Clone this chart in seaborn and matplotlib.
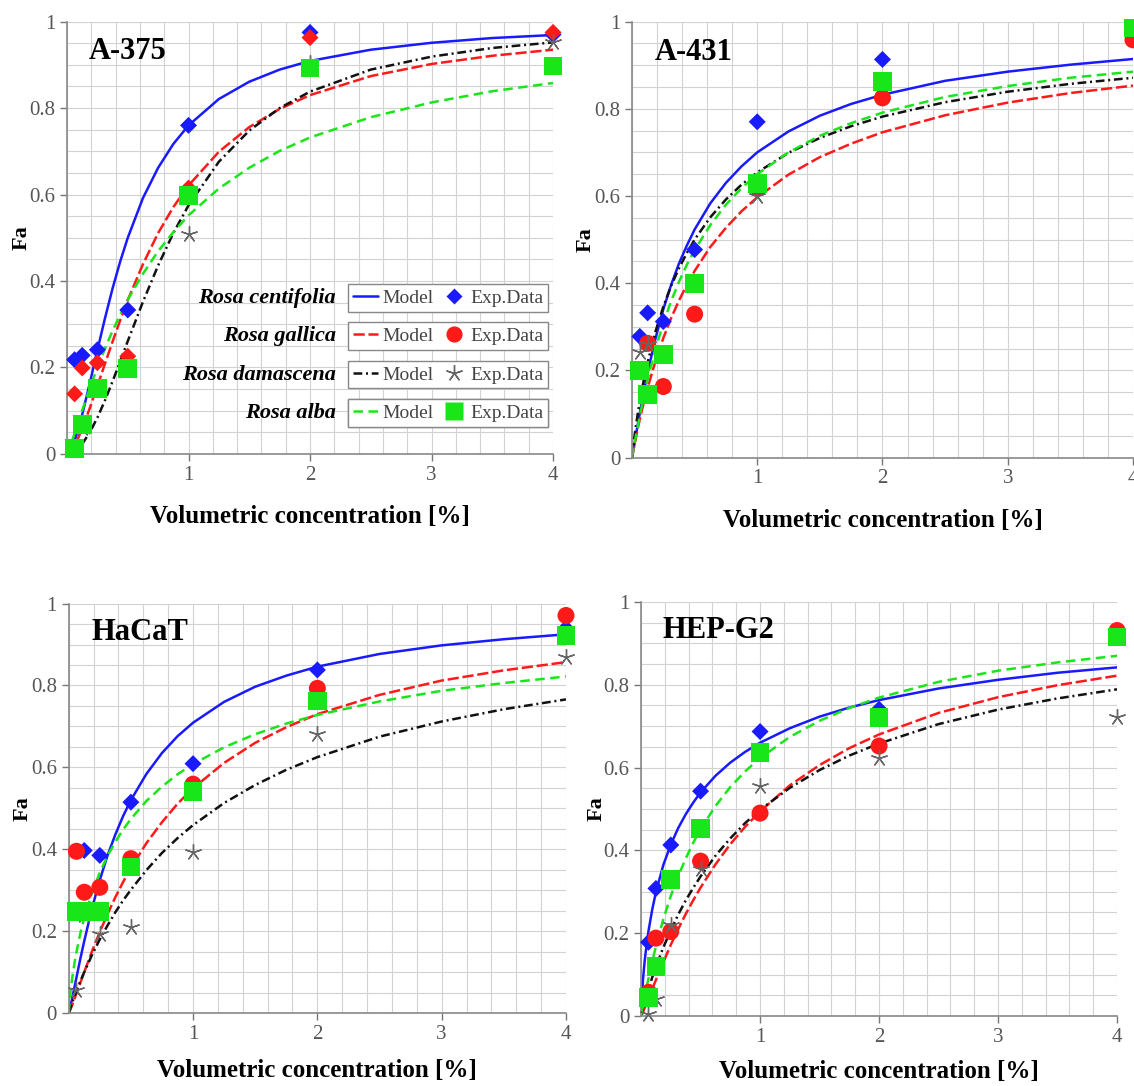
import numpy as np
import seaborn as sns
import matplotlib.pyplot as plt
from matplotlib.lines import Line2D
from matplotlib.ticker import MultipleLocator

sns.set_theme(style="white")
plt.rcParams['font.family'] = ['Liberation Serif', 'DejaVu Serif']

# Experimental concentrations [%]
conc = [0.0625, 0.125, 0.25, 0.5, 1, 2, 4]

model_conc = [0.0, 0.015625, 0.03125, 0.046875, 0.0625, 0.09375, 0.125, 0.1875, 0.25, 0.3125,
              0.375, 0.4375, 0.5, 0.625, 0.75, 0.875, 1.0, 1.25, 1.5, 1.75, 2.0, 2.5, 3.0, 3.5, 4.0]

species = ['Rosa centifolia', 'Rosa gallica', 'Rosa damascena', 'Rosa alba']
panels = ['A-375', 'A-431', 'HaCaT', 'HEP-G2']

# Exp. data (Fa), rows: centifolia, gallica, damascena, alba
a375_exp = [[0.218, 0.228, 0.241, 0.333, 0.760, 0.975, 0.970],
            [0.139, 0.199, 0.211, 0.226, 0.615, 0.963, 0.975],
            [0.012, 0.060, 0.150, 0.200, 0.508, 0.905, 0.952],
            [0.013, 0.068, 0.152, 0.198, 0.598, 0.893, 0.897]]
a431_exp = [[0.278, 0.332, 0.312, 0.477, 0.770, 0.913, 0.975],
            [0.200, 0.262, 0.163, 0.329, 0.620, 0.825, 0.958],
            [0.243, 0.260, 0.237, 0.400, 0.600, 0.863, 0.985],
            [0.200, 0.145, 0.237, 0.400, 0.629, 0.863, 0.985]]
hacat_exp = [[0.250, 0.397, 0.385, 0.515, 0.609, 0.838, 0.940],
             [0.395, 0.295, 0.307, 0.377, 0.559, 0.793, 0.971],
             [0.057, 0.240, 0.193, 0.209, 0.393, 0.682, 0.869],
             [0.248, 0.248, 0.248, 0.357, 0.541, 0.762, 0.922]]
hepg2_exp = [[0.178, 0.308, 0.413, 0.543, 0.687, 0.741, 0.920],
             [0.057, 0.188, 0.204, 0.374, 0.490, 0.652, 0.931],
             [0.004, 0.040, 0.220, 0.356, 0.555, 0.624, 0.722],
             [0.045, 0.119, 0.330, 0.453, 0.636, 0.721, 0.915]]

# Model curves (Fa) at model_conc
a375_model = [
    [0, .003, .010, .019, .031, .058, .091, .164, .240, .314, .383, .445, .500, .592, .662, .717, .760, .821, .861, .889, .909, .935, .951, .962, .969],
    [0, .002, .007, .013, .021, .038, .059, .106, .157, .209, .260, .309, .356, .439, .511, .571, .621, .699, .756, .798, .830, .874, .902, .921, .935],
    [0, .000, .002, .004, .006, .014, .023, .050, .084, .124, .168, .214, .261, .352, .436, .511, .575, .676, .748, .800, .838, .889, .919, .939, .952],
    [0, .010, .022, .035, .048, .075, .101, .152, .200, .244, .285, .322, .357, .417, .469, .513, .552, .614, .662, .701, .732, .779, .813, .839, .858]]
a431_model = [
    [0, .024, .051, .077, .102, .150, .195, .273, .340, .396, .445, .486, .523, .583, .630, .668, .700, .748, .784, .811, .832, .864, .885, .901, .914],
    [0, .024, .046, .068, .088, .126, .160, .221, .274, .320, .360, .396, .428, .483, .527, .565, .597, .649, .689, .720, .746, .785, .814, .836, .853],
    [0, .040, .072, .102, .129, .177, .218, .289, .346, .394, .434, .469, .500, .551, .592, .626, .654, .699, .733, .760, .782, .815, .839, .857, .871],
    [0, .025, .050, .073, .096, .139, .179, .249, .308, .359, .403, .442, .476, .533, .580, .618, .650, .700, .738, .767, .791, .827, .852, .871, .885]]
hacat_model = [
    [0, .018, .041, .064, .087, .133, .176, .256, .325, .385, .436, .481, .520, .584, .635, .676, .709, .760, .797, .824, .846, .877, .898, .913, .925],
    [0, .010, .022, .035, .048, .074, .100, .151, .198, .242, .283, .320, .354, .415, .466, .511, .549, .611, .660, .698, .730, .777, .812, .837, .857],
    [0, .014, .028, .041, .054, .078, .100, .142, .180, .214, .246, .275, .301, .349, .391, .427, .459, .513, .557, .594, .625, .675, .712, .742, .766],
    [0, .056, .092, .123, .149, .195, .233, .294, .343, .384, .418, .448, .474, .518, .553, .583, .608, .649, .681, .707, .728, .761, .787, .806, .822]]
hepg2_model = [
    [0, .086, .135, .173, .205, .257, .299, .365, .414, .454, .487, .515, .540, .580, .612, .638, .660, .695, .723, .745, .763, .791, .812, .829, .842],
    [0, .009, .020, .031, .042, .065, .087, .130, .172, .210, .246, .279, .310, .366, .415, .457, .494, .557, .606, .647, .680, .732, .770, .799, .822],
    [0, .018, .034, .050, .065, .093, .119, .166, .207, .245, .279, .309, .337, .387, .429, .466, .498, .551, .594, .629, .658, .705, .740, .767, .789],
    [0, .024, .048, .070, .091, .131, .168, .234, .290, .338, .380, .418, .451, .507, .553, .591, .623, .674, .713, .744, .769, .807, .834, .854, .870]]

exp_sets = [a375_exp, a431_exp, hacat_exp, hepg2_exp]
model_sets = [a375_model, a431_model, hacat_model, hepg2_model]

colors = ['#1a1aff', '#ff1a1a', '#111111', '#19e619']
mcolors = ['#1a1aff', '#ff1a1a', '#666666', '#19e619']
line_styles = ['-', (0, (4.5, 1.5)), (0, (3.5, 1.5, 0.8, 1.5)), (0, (3.8, 2.2))]
markers = ['D', 'o', (5, 2, 0), 's']
msizes = [75, 150, 130, 180]

# axes rectangles (figure fraction) and x-label offsets
rects = [[0.0591, 0.5820, 0.4286, 0.3981],
         [0.5573, 0.5786, 0.4418, 0.4016],
         [0.0606, 0.0672, 0.4385, 0.3770],
         [0.5653, 0.0645, 0.4198, 0.3812]]
xlab_y = [-0.118, -0.117, -0.112, -0.106]

fig = plt.figure(figsize=(11.34, 10.86), dpi=100)

for p, panel in enumerate(panels):
    ax = fig.add_axes(rects[p])

    # model curves
    for i in range(4):
        sns.lineplot(x=model_conc, y=model_sets[p][i], color=colors[i], linestyle=line_styles[i],
                     lw=1.8, ax=ax, zorder=2)

    # experimental points
    for i in range(4):
        if i == 2:
            sns.scatterplot(x=conc, y=exp_sets[p][i], marker=markers[i], s=msizes[i],
                            color=mcolors[i], linewidth=1.0, ax=ax, zorder=3, clip_on=False)
        else:
            # A-375 gallica points are drawn as diamonds in the original
            mk = 'D' if (panel == 'A-375' and i == 1) else markers[i]
            sz = 75 if mk == 'D' else msizes[i]
            sns.scatterplot(x=conc, y=exp_sets[p][i], marker=mk, s=sz, color=mcolors[i],
                            edgecolor='none', ax=ax, zorder=3, clip_on=False)

    ax.set_xlim(0, 4)
    ax.set_ylim(0, 1)
    ax.xaxis.set_minor_locator(MultipleLocator(0.2))
    ax.yaxis.set_minor_locator(MultipleLocator(0.05))
    ax.grid(True, which='both', color='#d2d2d2', lw=0.8)
    ax.set_axisbelow(True)
    ax.set_xticks([1, 2, 3, 4])
    ax.set_xticklabels(['1', '2', '3', '4'])
    ax.set_yticks([0, 0.2, 0.4, 0.6, 0.8, 1.0])
    ax.set_yticklabels(['0', '0.2', '0.4', '0.6', '0.8', '1'])
    ax.tick_params(which='major', direction='out', length=5, width=1, color='#777777',
                   labelsize=15, labelcolor='#555555', left=True, bottom=True)
    ax.tick_params(which='minor', length=0)
    for s in ['top', 'right']:
        ax.spines[s].set_visible(False)
    for s in ['left', 'bottom']:
        ax.spines[s].set_color('#888888')
        ax.spines[s].set_linewidth(1.2)

    ax.set_xlabel('Volumetric concentration [%]', fontsize=18, fontweight='bold', color='black')
    ax.xaxis.set_label_coords(0.5, xlab_y[p])
    ax.set_ylabel('Fa', fontsize=16, fontweight='bold', color='black')
    ax.yaxis.set_label_coords(-0.072, 0.5)
    ax.text(0.045, 0.93, panel, transform=ax.transAxes, fontsize=22, fontweight='bold',
            color='black', va='center', ha='left', zorder=5)

    # legend: one boxed entry per species, name written to the left
    if panel == 'A-375':
        ycs = [0.361, 0.273, 0.183, 0.095]
        for i in range(4):
            h1 = Line2D([], [], color=colors[i], linestyle=line_styles[i], lw=1.8)
            if i == 2:
                h2 = Line2D([], [], marker=markers[i], color=mcolors[i], linestyle='none',
                            markersize=12, mew=1)
            else:
                h2 = Line2D([], [], marker=markers[i], color=mcolors[i], linestyle='none',
                            markersize=np.sqrt(msizes[i]) * 0.95, mec='none')
            leg = ax.legend([h1, h2], ['Model', 'Exp.Data'], ncol=2, loc='center right',
                            bbox_to_anchor=(0.99, ycs[i]), frameon=True, fancybox=False,
                            edgecolor='#888888', framealpha=1, handlelength=1.3,
                            handletextpad=0.2, columnspacing=0.4, borderpad=0.25,
                            borderaxespad=0, prop={'family': 'Liberation Serif', 'size': 14})
            for t in leg.get_texts():
                t.set_color('#444444')
            ax.add_artist(leg)
            ax.text(0.553, ycs[i], species[i], transform=ax.transAxes, ha='right', va='center',
                    fontsize=16, fontweight='bold', fontstyle='italic', color='black', zorder=5)

fig.savefig('out.png', dpi=100)
